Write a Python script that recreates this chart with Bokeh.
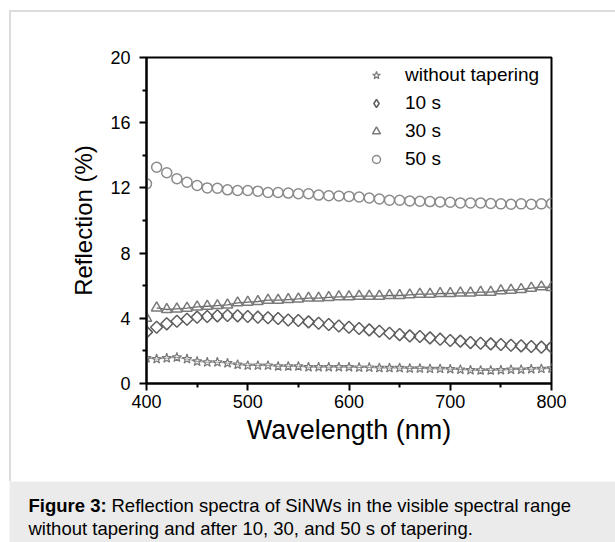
import numpy as np
from bokeh.plotting import figure
from bokeh.models import Range1d, FixedTicker, Legend, LegendItem, Label
from bokeh.layouts import column
from bokeh.embed import file_html
from bokeh.resources import INLINE

# ---------------- data ----------------
wavelength = list(range(400, 801, 10))

without_tapering = [1.55, 1.50, 1.55, 1.60, 1.50, 1.35, 1.30, 1.30, 1.25, 1.15,
                    1.10, 1.10, 1.10, 1.05, 1.05, 1.05, 1.00, 1.00, 1.00, 1.00,
                    1.00, 0.98, 0.98, 0.95, 0.95, 0.95, 0.92, 0.92, 0.90, 0.90,
                    0.88, 0.85, 0.82, 0.80, 0.80, 0.82, 0.85, 0.85, 0.88, 0.90,
                    0.92]

taper_10s = [3.15, 3.45, 3.66, 3.82, 3.94, 4.07, 4.11, 4.15, 4.17, 4.15,
             4.11, 4.07, 4.03, 3.99, 3.90, 3.86, 3.78, 3.70, 3.62, 3.53,
             3.45, 3.37, 3.29, 3.21, 3.08, 3.00, 2.92, 2.88, 2.80, 2.72,
             2.64, 2.60, 2.51, 2.47, 2.43, 2.39, 2.35, 2.31, 2.27, 2.23,
             2.23]

taper_30s = [4.00, 4.64, 4.54, 4.58, 4.62, 4.70, 4.74, 4.78, 4.82, 4.95,
             4.99, 5.03, 5.11, 5.11, 5.15, 5.19, 5.24, 5.24, 5.28, 5.32,
             5.32, 5.36, 5.36, 5.36, 5.40, 5.40, 5.44, 5.48, 5.48, 5.52,
             5.52, 5.56, 5.56, 5.60, 5.60, 5.69, 5.73, 5.77, 5.85, 5.93,
             5.89]

taper_50s = [12.25, 13.27, 12.93, 12.56, 12.35, 12.15, 12.00, 11.98, 11.88, 11.84,
             11.84, 11.80, 11.72, 11.72, 11.68, 11.64, 11.64, 11.56, 11.52, 11.50,
             11.48, 11.44, 11.38, 11.32, 11.24, 11.24, 11.20, 11.18, 11.16, 11.14,
             11.12, 11.08, 11.08, 11.08, 11.04, 11.02, 11.00, 11.02, 11.00, 11.02,
             11.04]

series_labels = ["without tapering", "10 s", "30 s", "50 s"]
x_ticks = [400, 500, 600, 700, 800]
y_ticks = [0, 4, 8, 12, 16, 20]

caption_bold = "Figure 3:"
caption_line1 = "Reflection spectra of SiNWs in the visible spectral range"
caption_line2 = "without tapering and after 10, 30, and 50 s of tapering."

FONT = "Liberation Sans"
PANEL_LINE = "#dcdcdc"

# ---------------- chart ----------------
p = figure(width=615, height=481,
           x_range=Range1d(400, 800), y_range=Range1d(0, 20),
           output_backend="svg", toolbar_location=None,
           min_border_left=146, min_border_right=64,
           min_border_top=57, min_border_bottom=98)
p.frame_align = False
p.xgrid.visible = False
p.ygrid.visible = False
p.outline_line_color = "black"
p.outline_line_width = 2
p.background_fill_color = "white"
p.border_fill_color = None
# light panel border (top and left edges) painted behind the transparent canvas border
p.styles = {
    "background-color": "white",
    "background-image": f"linear-gradient({PANEL_LINE}, {PANEL_LINE}), linear-gradient({PANEL_LINE}, {PANEL_LINE})",
    "background-size": "100% 2px, 2px 100%",
    "background-position": "10px 10px, 9px 10px",
    "background-repeat": "no-repeat",
}

x_minor = [(a + b) / 2 for a, b in zip(x_ticks[:-1], x_ticks[1:])]
y_minor = [(a + b) / 2 for a, b in zip(y_ticks[:-1], y_ticks[1:])]
p.xaxis.ticker = FixedTicker(ticks=x_ticks, minor_ticks=x_minor)
p.yaxis.ticker = FixedTicker(ticks=y_ticks, minor_ticks=y_minor)

for ax in (p.xaxis[0], p.yaxis[0]):
    ax.axis_line_width = 2
    ax.axis_line_color = "black"
    ax.major_tick_in = 0
    ax.major_tick_out = 7
    ax.minor_tick_in = 0
    ax.minor_tick_out = 4
    ax.major_tick_line_width = 2
    ax.minor_tick_line_width = 2
    ax.major_tick_line_color = "black"
    ax.minor_tick_line_color = "black"
    ax.major_label_text_font = FONT
    ax.major_label_text_font_size = "18px"
    ax.major_label_text_color = "black"
    ax.axis_label_text_font = FONT
    ax.axis_label_text_font_style = "normal"
    ax.axis_label_text_color = "black"

p.xaxis.axis_label = "Wavelength (nm)"
p.xaxis.axis_label_text_font_size = "27px"
p.xaxis.major_label_standoff = 4
p.xaxis.axis_label_standoff = 4
p.yaxis.axis_label = "Reflection (%)"
p.yaxis.axis_label_text_font_size = "24px"
p.yaxis.major_label_standoff = 9
p.yaxis.axis_label_standoff = 10

# without tapering: stars + thin line
p.line(wavelength, without_tapering, line_color="#9a9a9a", line_width=1)
r_star = p.scatter(wavelength, without_tapering, marker="star", size=10,
                   fill_color=None, line_color="#7a7a7a", line_width=1.2)

# 10 s: diamonds (rotated squares); legend uses a diamond glyph
p.scatter(wavelength, taper_10s, marker="square", angle=np.pi / 4, size=8.5,
          fill_color=None, line_color="#5e5e5e", line_width=1.5)
r_dia = p.scatter(x=[float("nan")], y=[float("nan")], marker="diamond", size=10,
                  fill_color=None, line_color="#5e5e5e", line_width=1.5)

# 30 s: triangles + line
p.line(wavelength[1:], taper_30s[1:], line_color="#6a6a6a", line_width=1.3)
r_tri = p.scatter(wavelength, taper_30s, marker="triangle", size=10.5,
                  fill_color=None, line_color="#7a7a7a", line_width=1.5)

# 50 s: circles
r_circ = p.scatter(wavelength, taper_50s, marker="circle", size=10,
                   fill_color=None, line_color="#8a8a8a", line_width=1.5)

legend = Legend(items=[LegendItem(label=series_labels[0], renderers=[r_star]),
                       LegendItem(label=series_labels[1], renderers=[r_dia]),
                       LegendItem(label=series_labels[2], renderers=[r_tri]),
                       LegendItem(label=series_labels[3], renderers=[r_circ])],
                location=(220, 213),
                label_text_font=FONT, label_text_font_size="19px",
                label_text_color="black",
                glyph_width=20, glyph_height=20, label_height=20,
                label_standoff=19, spacing=6, padding=0, margin=0,
                border_line_color=None, background_fill_alpha=0)
p.add_layout(legend)

# ---------------- caption ----------------
c = figure(width=615, height=61,
           x_range=Range1d(0, 606), y_range=Range1d(61, 0),
           x_axis_type=None, y_axis_type=None,
           output_backend="svg", toolbar_location=None,
           min_border_left=9, min_border_right=0, min_border_top=0, min_border_bottom=0)
c.frame_align = False
c.grid.visible = False
c.outline_line_color = None
c.background_fill_color = "#ebebeb"
c.border_fill_color = "white"

c.add_layout(Label(x=19, y=24, text=caption_bold, text_font=FONT, text_font_style="bold",
                   text_font_size="18.5px", text_color="black", text_baseline="middle"))
c.add_layout(Label(x=102, y=24, text=caption_line1, text_font=FONT,
                   text_font_size="18.5px", text_color="black", text_baseline="middle"))
c.add_layout(Label(x=19, y=47, text=caption_line2, text_font=FONT,
                   text_font_size="18.5px", text_color="black", text_baseline="middle"))

layout = column(p, c, spacing=0)
open("out.html", "w").write(file_html(layout, INLINE))
